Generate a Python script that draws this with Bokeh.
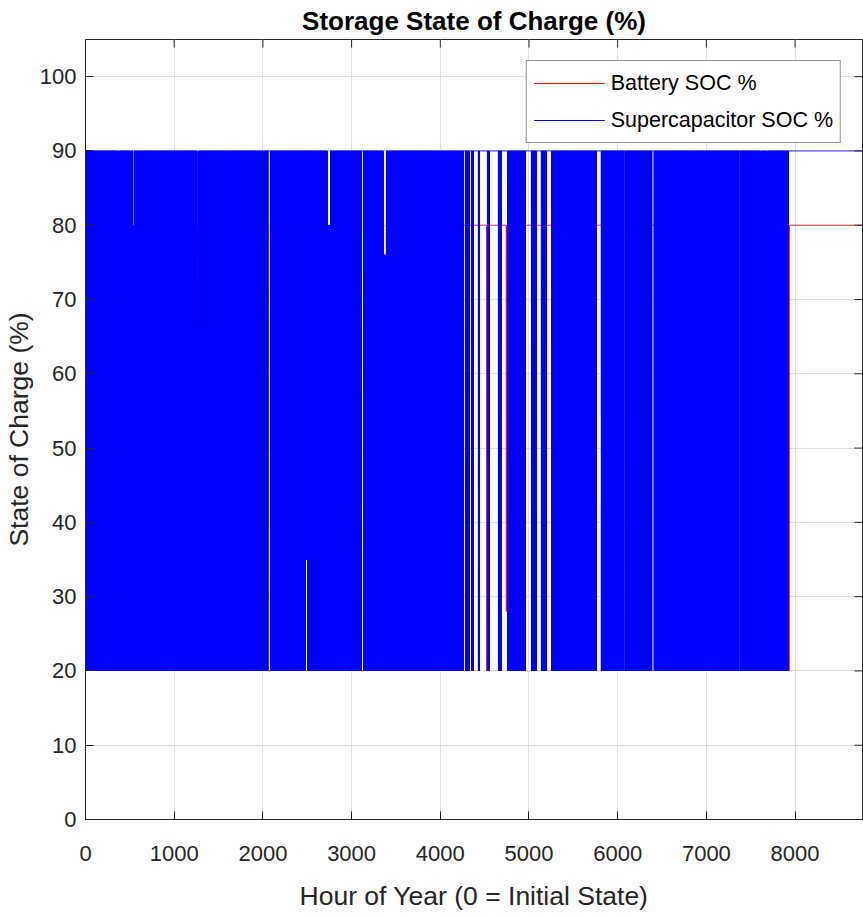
import numpy as np
from bokeh.plotting import figure
from bokeh.models import Range1d, FixedTicker, Legend, LegendItem
from bokeh.embed import file_html
from bokeh.resources import INLINE

# ---------------- data ----------------
HOURS_IN_YEAR = 8760
x_ticks = [0, 1000, 2000, 3000, 4000, 5000, 6000, 7000, 8000]
y_ticks = [0, 10, 20, 30, 40, 50, 60, 70, 80, 90, 100]

# Supercapacitor: swings hourly between its limits until the band ends, then rests
sc_low, sc_high = 20, 90
sc_band_end = 7923
sc_rest = 90
# spans (hours) where the swing differs from the full band (low == high -> held)
sc_seg_start = [68, 192, 248, 372, 535, 608, 778, 890, 1026, 1259, 1375, 1634,
                1826, 1927, 2006, 2057, 2141, 2254, 2344, 2423, 2479, 2592, 2727,
                2862, 3110, 3189, 3358, 3550, 3719, 3809, 3933, 3960, 3990, 4040,
                4110, 4175, 4222, 4260, 4328, 4373, 4440, 4553, 4688, 4959, 5083,
                5195, 5455, 5567, 5680, 5759, 6070, 6221, 6311, 6385, 6446, 6593,
                6807, 7066, 7366, 7610, 7680, 7776]
sc_seg_end = [73, 197, 254, 383, 552, 614, 783, 895, 1031, 1273, 1380, 1640,
              1831, 1932, 2011, 2085, 2146, 2259, 2349, 2429, 2502, 2597, 2761,
              2868, 3133, 3194, 3392, 3555, 3730, 3814, 3939, 3968, 3998, 4048,
              4118, 4183, 4230, 4283, 4350, 4429, 4530, 4654, 4760, 5026, 5139,
              5252, 5460, 5572, 5685, 5815, 6082, 6226, 6316, 6410, 6451, 6598,
              6812, 7071, 7378, 7618, 7688, 7781]
sc_seg_low = [90, 90, 90, 20, 20, 90, 90, 90, 90, 20, 90, 90,
              90, 90, 90, 90, 90, 90, 90, 90, 35, 90, 20,
              90, 90, 90, 20, 90, 30, 90, 90, 90, 90, 90,
              90, 90, 90, 90, 90, 90, 90, 90, 90, 90, 90,
              90, 90, 90, 90, 90, 90, 90, 90, 90, 90, 90,
              90, 90, 90, 20, 20, 90]
sc_seg_high = [90, 90, 90, 86, 80, 90, 90, 90, 90, 67, 90, 90,
               90, 90, 90, 90, 90, 90, 90, 90, 90, 90, 80,
               90, 90, 90, 76, 90, 90, 90, 90, 90, 90, 90,
               90, 90, 90, 90, 90, 90, 90, 90, 90, 90, 90,
               90, 90, 90, 90, 90, 90, 90, 90, 90, 90, 90,
               90, 90, 90, 86, 84, 90]

# Battery: swings between its limits early in the year, then mostly rests at 80
bat_low, bat_high = 20, 80
bat_band_end = 3700
bat_rest = 80
bat_seg_start = [1259, 2057, 2479, 3110, 3358, 4525, 4745, 7930]
bat_seg_end = [1273, 2085, 2502, 3133, 3392, 4525, 4745, 7933]
bat_seg_low = [20, 20, 80, 20, 20, 20, 28, 20]
bat_seg_high = [60, 20, 80, 20, 70, 20, 28, 20]

series_names = ["Battery SOC %", "Supercapacitor SOC %"]
series_colors = ["#ff0000", "#0000ff"]

# ---------------- series ----------------
hours = np.arange(0, HOURS_IN_YEAR + 1)


def build(band_end, lo_v, hi_v, rest, starts, ends, lows, highs):
    lo = np.where(hours <= band_end, lo_v, rest).astype(float)
    hi = np.where(hours <= band_end, hi_v, rest).astype(float)
    for s, e, l, h in zip(starts, ends, lows, highs):
        m = (hours >= s) & (hours <= e)
        lo[m] = l
        hi[m] = h
    return np.where(hours % 2 == 0, lo, hi)


sc_soc = build(sc_band_end, sc_low, sc_high, sc_rest,
               sc_seg_start, sc_seg_end, sc_seg_low, sc_seg_high)
bat_soc = build(bat_band_end, bat_low, bat_high, bat_rest,
                bat_seg_start, bat_seg_end, bat_seg_low, bat_seg_high)

# ---------------- figure ----------------
FONT = "Liberation Sans"
AX = "#262626"
Y_MAX = 105

p = figure(width=863, height=917, output_backend="svg", toolbar_location=None,
           x_range=Range1d(0, HOURS_IN_YEAR), y_range=Range1d(0, Y_MAX),
           min_border_left=85, min_border_right=1, min_border_top=39,
           min_border_bottom=98)

p.title.text = "Storage State of Charge (%)"
p.title.align = "center"
p.title.text_font = FONT
p.title.text_font_style = "bold"
p.title.text_font_size = "26px"
p.title.text_color = "#000000"
p.title.standoff = 7

p.outline_line_color = AX
p.outline_line_width = 1
p.background_fill_color = "white"
p.border_fill_color = "white"

r_bat = p.line(hours, bat_soc, line_color=series_colors[0], line_width=1)
r_sc = p.line(hours, sc_soc, line_color=series_colors[1], line_width=1)

p.xaxis.ticker = FixedTicker(ticks=x_ticks)
p.yaxis.ticker = FixedTicker(ticks=y_ticks)
p.xaxis.axis_label = "Hour of Year (0 = Initial State)"
p.yaxis.axis_label = "State of Charge (%)"

for ax in (p.xaxis[0], p.yaxis[0]):
    ax.axis_label_text_font = FONT
    ax.axis_label_text_font_size = "26.5px"
    ax.axis_label_text_font_style = "normal"
    ax.axis_label_text_color = AX
    ax.major_label_text_font = FONT
    ax.major_label_text_font_size = "22px"
    ax.major_label_text_color = AX
    ax.axis_line_color = AX
    ax.major_tick_line_color = AX
    ax.major_tick_in = 8
    ax.major_tick_out = 0
    ax.minor_tick_line_color = None

p.xaxis.major_label_standoff = 26
p.xaxis.axis_label_standoff = 17
p.yaxis.major_label_standoff = 9
p.yaxis.axis_label_standoff = 3

# box ticks on the top and right edges (8 px, pointing inwards)
p.ray(x=x_ticks[1:], y=[Y_MAX] * len(x_ticks[1:]), length=8, length_units="screen",
      angle=-np.pi / 2, line_color=AX, line_width=1)
p.ray(x=[HOURS_IN_YEAR] * len(y_ticks[1:]), y=y_ticks[1:], length=8,
      length_units="screen", angle=np.pi, line_color=AX, line_width=1)

p.xgrid.grid_line_color = "#dfdfdf"
p.ygrid.grid_line_color = "#dfdfdf"

legend = Legend(items=[LegendItem(label=series_names[0], renderers=[r_bat]),
                       LegendItem(label=series_names[1], renderers=[r_sc])],
                location="top_right")
legend.margin = 21
legend.padding = 7
legend.spacing = 7
legend.label_standoff = 6
legend.glyph_width = 71
legend.glyph_height = 30
legend.label_height = 30
legend.label_text_font = FONT
legend.label_text_font_size = "21.5px"
legend.label_text_color = "#000000"
legend.border_line_color = AX
legend.border_line_width = 1
legend.background_fill_color = "white"
legend.background_fill_alpha = 1.0
p.add_layout(legend)

open("out.html", "w").write(file_html(p, INLINE))
